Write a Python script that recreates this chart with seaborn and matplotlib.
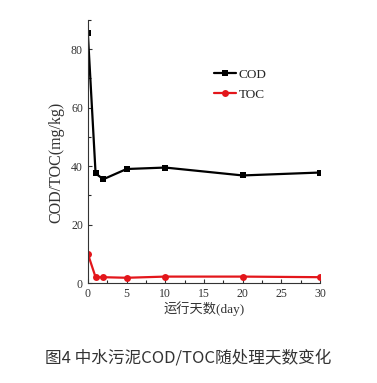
import seaborn as sns
import pandas as pd
import numpy as np
import matplotlib.pyplot as plt
from matplotlib.ticker import MultipleLocator

# data
days = [0, 1, 2, 5, 10, 20, 30]
cod = [85.5, 37.5, 35.5, 39.0, 39.5, 36.8, 37.8]
toc = [10.0, 2.0, 2.0, 1.8, 2.2, 2.2, 2.0]

sns.set_style("ticks")
plt.rcParams['font.family'] = ['Liberation Serif', 'Noto Sans CJK SC']
plt.rcParams['xtick.direction'] = 'in'
plt.rcParams['ytick.direction'] = 'in'

df = pd.DataFrame({'day': days + days,
                   'value': cod + toc,
                   'series': ['COD'] * len(days) + ['TOC'] * len(days)})

fig = plt.figure(figsize=(3.77, 3.83), dpi=100)
ax = fig.add_axes([0.233, 0.261, 0.616, 0.687])

sns.lineplot(data=df, x='day', y='value', hue='series', style='series',
             palette={'COD': 'black', 'TOC': '#e3161b'},
             markers={'COD': 's', 'TOC': 'o'}, dashes=False,
             markersize=5, markeredgewidth=0, linewidth=1.6, ax=ax)

ax.set_xlim(0, 30)
ax.set_ylim(0, 90)
ax.xaxis.set_major_locator(MultipleLocator(5))
ax.xaxis.set_minor_locator(MultipleLocator(2.5))
ax.yaxis.set_major_locator(MultipleLocator(20))
ax.yaxis.set_minor_locator(MultipleLocator(10))
ax.tick_params(labelsize=8.5, length=3, width=0.8, colors='#333333')
ax.tick_params(which='minor', length=2, width=0.8)
for s in ['top', 'right']:
    ax.spines[s].set_visible(False)
for s in ['left', 'bottom']:
    ax.spines[s].set_color('#333333')

ax.set_xlabel('运行天数(day)', fontsize=9.5, color='#333333', labelpad=1)
ax.set_ylabel('COD/TOC(mg/kg)', fontsize=11.5, color='#333333')
ax.yaxis.set_label_coords(-0.1, 0.46)

leg = ax.legend(title=None, frameon=False, loc='upper left',
                bbox_to_anchor=(0.49, 0.86), fontsize=9.5,
                handlelength=1.7, handletextpad=0.2, labelspacing=0.6)

fig.text(0.5, 0.065, '图4 中水污泥COD/TOC随处理天数变化', ha='center', va='center',
         fontsize=12, color='#333333', family=['Noto Sans CJK SC'])

plt.savefig('out.png', dpi=100)
